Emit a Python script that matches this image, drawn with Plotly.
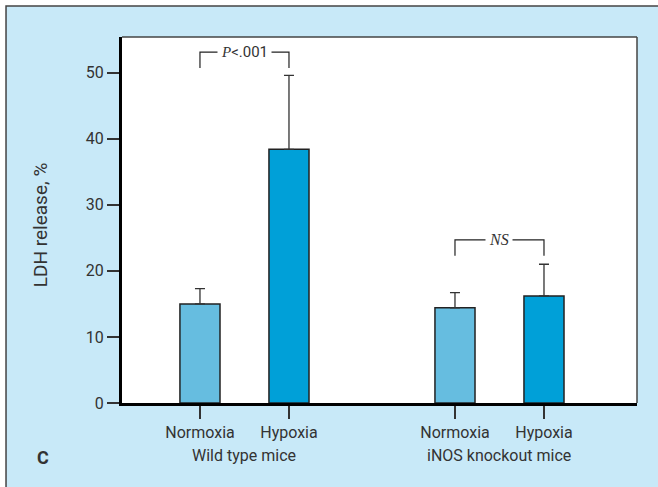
import plotly.graph_objects as go

# Data
categories = ["Normoxia", "Hypoxia", "Normoxia", "Hypoxia"]
groups = ["Wild type mice", "iNOS knockout mice"]
x_pos = [0, 1, 2.865, 3.865]
ldh = [15.0, 38.4, 14.4, 16.2]
err_up = [2.3, 11.2, 2.3, 4.8]
bar_colors = ["#66bde0", "#00a0d8", "#66bde0", "#00a0d8"]
y_ticks = [0, 10, 20, 30, 40, 50]
p_labels = ["<span style='font-family:Liberation Serif'><i>P</i></span>&lt;.001", "<i>NS</i>"]
bracket_top = [53.1, 24.7]
bracket_bottom = [50.7, 22.3]

FONT = "Roboto, Liberation Sans, sans-serif"
TXT = "#333333"
BG = "#c8e9f8"

fig = go.Figure()
fig.add_trace(go.Bar(
    x=x_pos, y=ldh, width=0.45,
    marker=dict(color=bar_colors, line=dict(color="#222222", width=1.5)),
    error_y=dict(type="data", array=err_up, arrayminus=[0]*4, symmetric=False,
                 color="#333333", thickness=1.3, width=5),
    showlegend=False,
))

# outer panel
fig.add_shape(type="rect", xref="paper", yref="paper",
              x0=-0.2252, y0=-0.25, x1=1.06, y1=1.0847,
              fillcolor=BG, line=dict(color="#444444", width=1.5), layer="below")
# white plot area
fig.add_shape(type="rect", xref="paper", yref="paper", x0=0, y0=0, x1=1, y1=1,
              fillcolor="white", line=dict(width=0), layer="below")
# top/right plot frame
fig.add_shape(type="line", xref="paper", yref="paper", x0=0, x1=1, y0=1, y1=1,
              line=dict(color="#444444", width=1.5))
fig.add_shape(type="line", xref="paper", yref="paper", x0=1, x1=1, y0=0, y1=1,
              line=dict(color="#444444", width=1.5))

# significance brackets
pairs = [(x_pos[0], x_pos[1]), (x_pos[2], x_pos[3])]
for i, (xa, xb) in enumerate(pairs):
    fig.add_shape(type="path",
                  path=f"M {xa} {bracket_bottom[i]} L {xa} {bracket_top[i]} L {xb} {bracket_top[i]} L {xb} {bracket_bottom[i]}",
                  line=dict(color="#222222", width=1.2))
    fig.add_annotation(x=(xa + xb) / 2, y=bracket_top[i], text=p_labels[i],
                       showarrow=False, bgcolor="white", borderpad=3,
                       font=dict(family="Liberation Serif" if i == 1 else FONT,
                                 size=16 if i == 1 else 15, color=TXT))

# group labels
for i, g in enumerate(groups):
    xa, xb = pairs[i]
    fig.add_annotation(x=(xa + xb) / 2, xref="x", y=-0.143, yref="paper", text=g,
                       xanchor="center", yanchor="middle",
                       showarrow=False, font=dict(family=FONT, size=16, color=TXT))

fig.add_annotation(x=-0.154, y=-0.150, xref="paper", yref="paper", text="<b>C</b>",
                   xanchor="center", yanchor="middle",
                   showarrow=False, font=dict(family=FONT, size=18, color=TXT))
fig.add_annotation(x=-0.159, y=0.486, xref="paper", yref="paper", text="LDH release, %",
                   xanchor="center", yanchor="middle",
                   textangle=-90, showarrow=False, font=dict(family=FONT, size=19, color=TXT))

fig.update_layout(
    width=658, height=487,
    margin=dict(l=122, r=21, t=37, b=84),
    paper_bgcolor="white", plot_bgcolor="white",
    font=dict(family=FONT, size=16, color=TXT),
    xaxis=dict(range=[-0.876, 4.91], tickvals=x_pos, ticktext=categories,
               ticks="outside", ticklen=13, tickwidth=1.5, tickcolor="#333333",
               showline=True, linecolor="black", linewidth=3, showgrid=False, zeroline=False,
               tickfont=dict(family=FONT, size=16, color=TXT)),
    yaxis=dict(range=[0, 55.4], tickvals=y_ticks,
               ticks="outside", ticklen=12, tickwidth=1.5, tickcolor="#333333",
               showline=True, linecolor="black", linewidth=3, showgrid=False, zeroline=False,
               tickfont=dict(family=FONT, size=16, color=TXT)),
)

fig.write_html("out.html")
